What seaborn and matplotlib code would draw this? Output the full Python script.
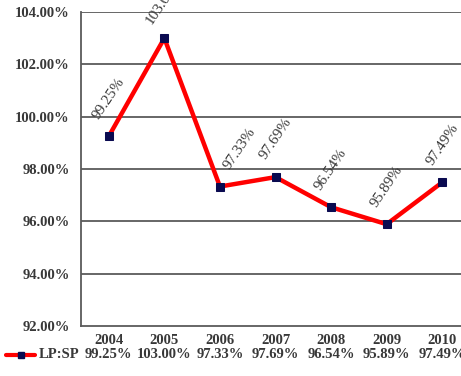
import matplotlib
matplotlib.use("Agg")
import matplotlib.pyplot as plt
import matplotlib.transforms as mtransforms
from matplotlib.lines import Line2D
import seaborn as sns
import pandas as pd

years = ["2004", "2005", "2006", "2007", "2008", "2009", "2010"]
lp_sp = [99.25, 103.00, 97.33, 97.69, 96.54, 95.89, 97.49]
series_name = "LP:SP"
y_ticks = [92, 94, 96, 98, 100, 102, 104]

df = pd.DataFrame({"year": years, "value": lp_sp})

sns.set_style("white")
plt.rcParams["font.family"] = ["Liberation Serif", "DejaVu Serif"]

grid_col = "#5a5a5a"
text_col = "#383838"
line_col = "#ff0000"
marker_col = "#0a0a50"

fig = plt.figure(figsize=(4.61, 3.76), dpi=100)
ax = fig.add_axes([81 / 461, 50 / 376, 389 / 461, 314 / 376])

sns.lineplot(data=df, x="year", y="value", ax=ax, color=line_col, linewidth=3.2,
             marker="s", markersize=5.5, markerfacecolor=marker_col,
             markeredgecolor=marker_col, sort=False, zorder=3)

ax.set_xlim(-0.5, len(years) - 0.5)
ax.set_ylim(92, 104)
ax.set_yticks(y_ticks)
ax.set_yticklabels([f"{t:.2f}%" for t in y_ticks])
ax.set_xlabel("")
ax.set_ylabel("")

for yv in y_ticks[1:]:
    ax.axhline(yv, color=grid_col, linewidth=1.3, zorder=1)

for side in ["top", "right"]:
    ax.spines[side].set_visible(False)
for side in ["left", "bottom"]:
    ax.spines[side].set_color(grid_col)
    ax.spines[side].set_linewidth(1.3)

ax.tick_params(axis="y", length=5, width=1.2, color=grid_col, pad=3,
               labelsize=10.5, labelcolor=text_col)
ax.tick_params(axis="x", length=0, pad=6, labelsize=10.5, labelcolor=text_col)
for lbl in ax.get_xticklabels() + ax.get_yticklabels():
    lbl.set_fontweight("bold")

# rotated value labels above each point
label_dx = {2: 0.36}
for i, v in enumerate(lp_sp):
    ax.annotate(f"{v:.2f}%", (i, v), xytext=(label_dx.get(i, 0) * 55.6, 38),
                textcoords="offset pixels", rotation=56, ha="center", va="center",
                fontsize=11, color=text_col, rotation_mode="anchor",
                annotation_clip=False)

# data table row under the category axis
trans = mtransforms.blended_transform_factory(ax.transData, fig.transFigure)
row_y = 1 - 355 / 376
for i, v in enumerate(lp_sp):
    ax.text(i, row_y, f"{v:.2f}%", transform=trans, ha="center", va="center",
            fontsize=10.5, fontweight="bold", color=text_col, clip_on=False)

fig.text(39 / 461, row_y, series_name, ha="left", va="center", fontsize=10.5,
         fontweight="bold", color=text_col)
key_y = row_y
fig.add_artist(Line2D([6 / 461, 35 / 461], [key_y, key_y], transform=fig.transFigure,
                      color=line_col, linewidth=3))
fig.add_artist(Line2D([20.5 / 461], [key_y], transform=fig.transFigure, marker="s",
                      markersize=5, color=marker_col, linestyle="none"))

fig.savefig("out.png", dpi=100)
